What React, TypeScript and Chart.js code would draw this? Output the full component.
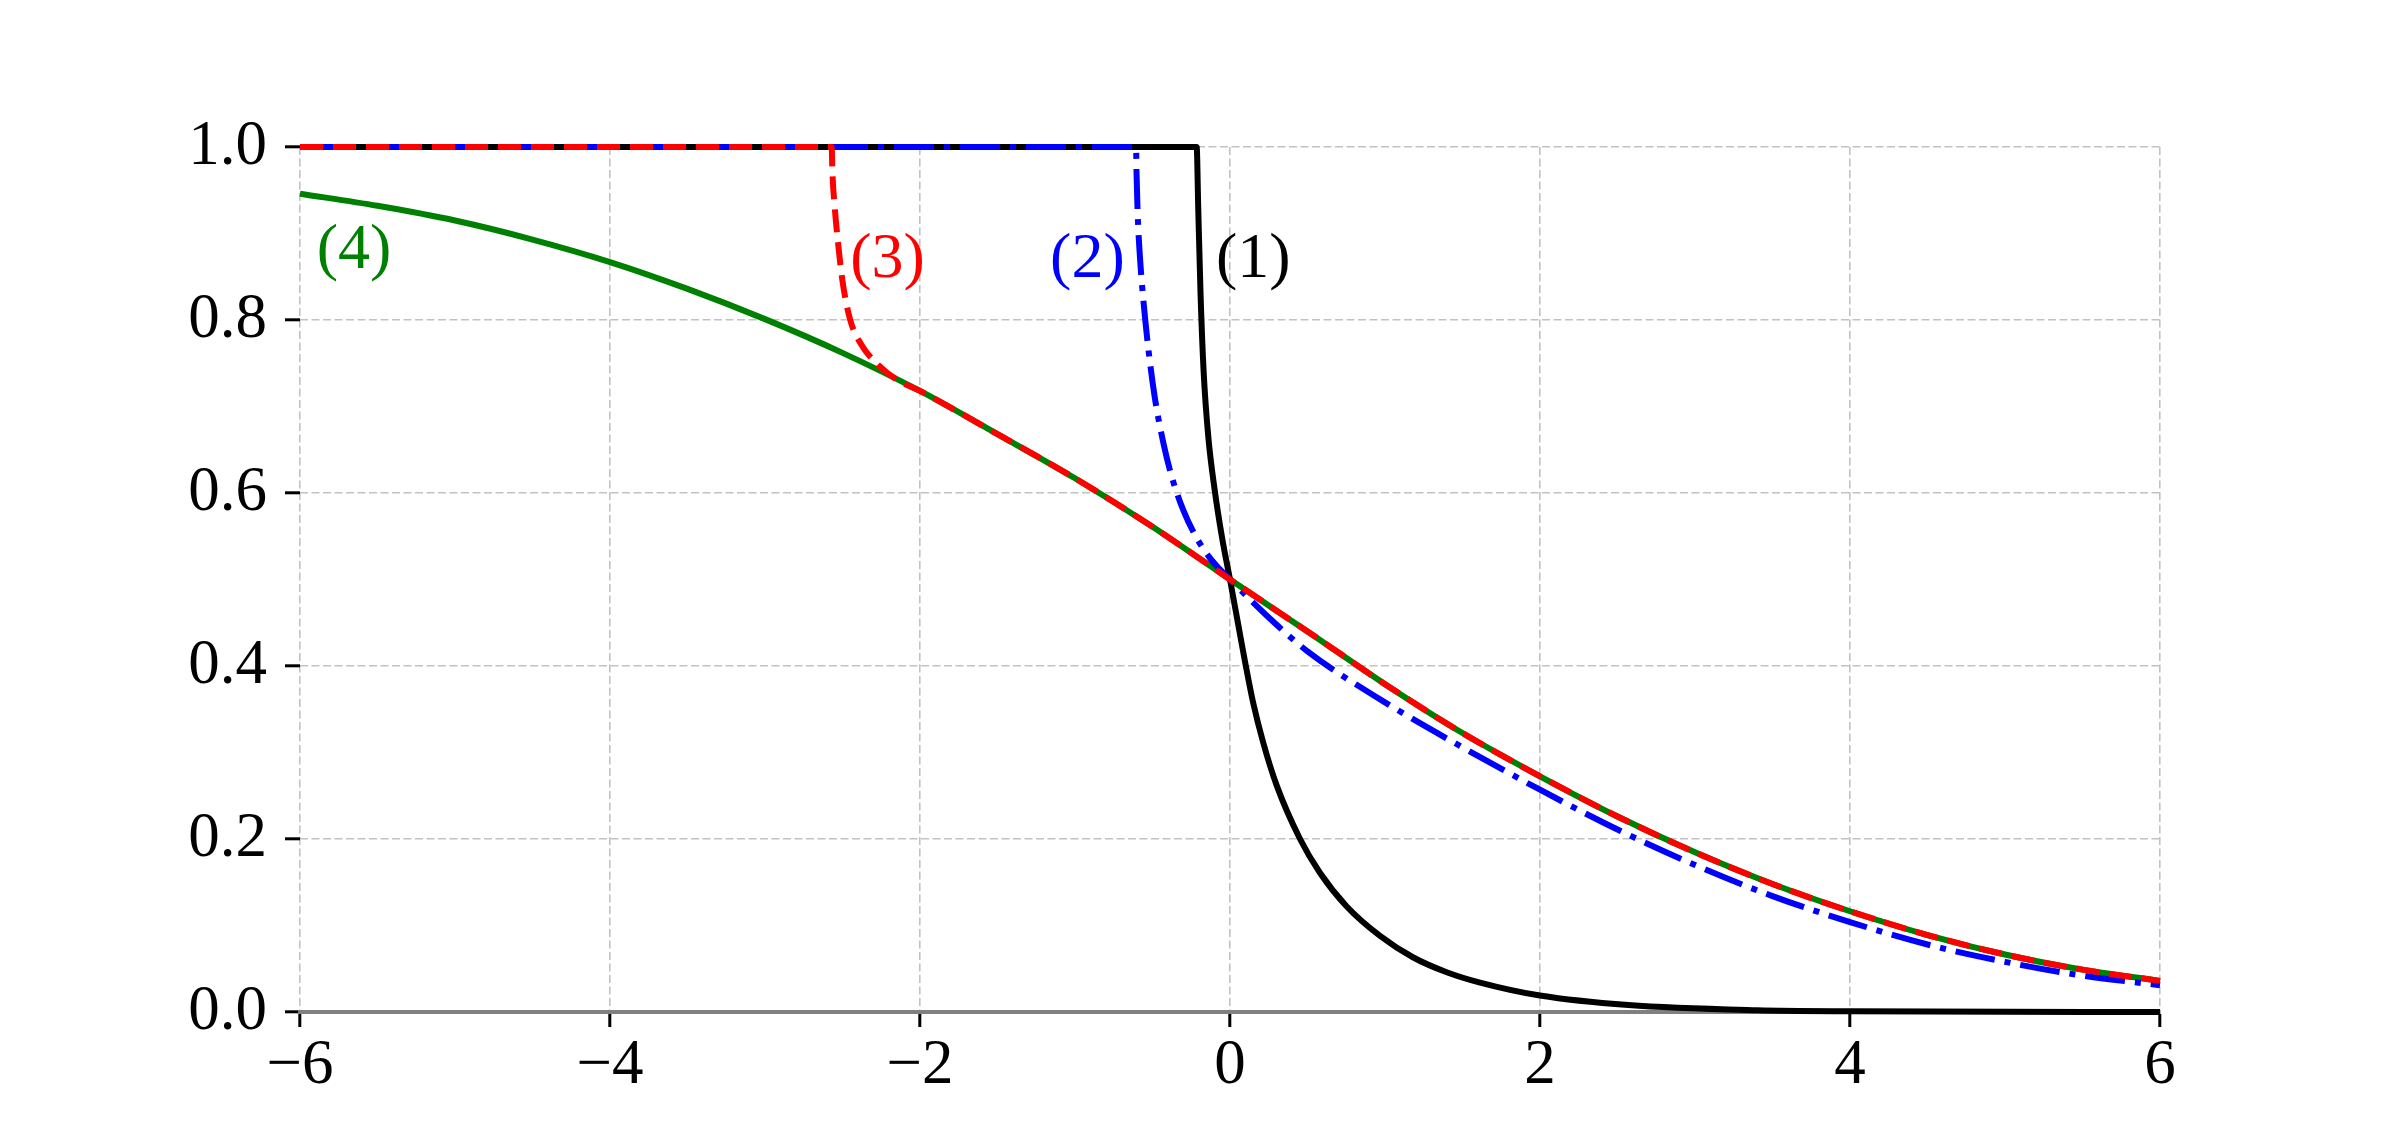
import React, { useEffect, useRef } from 'react';
import { Chart, registerables } from 'chart.js';

Chart.register(...registerables);

// ---- data ----
const X_MIN = -6;
const X_MAX = 6;
const X_STEP = 2;
const Y_MIN = 0;
const Y_MAX = 1;
const Y_STEP = 0.2;

// (1) black solid
const CURVE1_X = [-6, -0.215, -0.205, -0.19, -0.17, -0.14, -0.1, -0.05, 0, 0.054, 0.097, 0.15, 0.215, 0.301, 0.452, 0.58, 0.753, 0.968, 1.183, 1.398, 1.613, 2.0, 2.57, 3.4, 4.0, 6];
const CURVE1_Y = [1, 1, 0.93, 0.83, 0.74, 0.665, 0.605, 0.547, 0.5, 0.447, 0.405, 0.357, 0.311, 0.262, 0.2, 0.161, 0.122, 0.088, 0.063, 0.046, 0.034, 0.019, 0.008, 0.002, 0.0008, 0];

// (2) blue dash-dot
const CURVE2_X = [-6, -0.606, -0.603, -0.595, -0.58, -0.56, -0.527, -0.484, -0.43, -0.376, -0.3, -0.215, -0.13, -0.065, 0, 0.25, 0.5, 1, 1.5, 2, 2.5, 3, 3.5, 4, 4.5, 5, 5.5, 6];
const CURVE2_Y = [1, 1, 0.97, 0.92, 0.87, 0.825, 0.767, 0.709, 0.658, 0.619, 0.5795, 0.548, 0.525, 0.5117, 0.5, 0.456, 0.417, 0.358, 0.306, 0.257, 0.211, 0.17, 0.134, 0.104, 0.078, 0.058, 0.042, 0.031];

// (3) red dashed
const CURVE3_X = [-6, -2.57, -2.565, -2.55, -2.535, -2.5, -2.45, -2.38, -2.27, -2.15, -2, -1.5, -1, -0.5, 0, 0.5, 1, 1.5, 2, 2.5, 3, 3.5, 4, 4.5, 5, 5.5, 6];
const CURVE3_Y = [1, 1, 0.97, 0.93, 0.9, 0.845, 0.8, 0.772, 0.748, 0.731, 0.718, 0.668, 0.617, 0.561, 0.5, 0.44, 0.379, 0.3225, 0.2725, 0.226, 0.1846, 0.148, 0.1165, 0.089, 0.0665, 0.049, 0.036];

// (4) green solid
const CURVE4_X = [-6, -5.5, -5, -4.5, -4, -3.5, -3, -2.5, -2, -1.5, -1, -0.5, 0, 0.5, 1, 1.5, 2, 2.5, 3, 3.5, 4, 4.5, 5, 5.5, 6];
const CURVE4_Y = [0.946, 0.932, 0.915, 0.893, 0.867, 0.836, 0.801, 0.762, 0.718, 0.668, 0.617, 0.561, 0.5, 0.44, 0.379, 0.3225, 0.2725, 0.226, 0.1846, 0.148, 0.1165, 0.089, 0.0665, 0.049, 0.036];

// curve labels (data coordinates)
const LABEL_TEXT = ['(1)', '(2)', '(3)', '(4)'];
const LABEL_X = [0.15, -0.92, -2.21, -5.652];
const LABEL_Y = [0.869, 0.869, 0.869, 0.88];
const LABEL_COLOR = ['#000000', '#0000ff', '#ff0000', '#008000'];

const FONT_FAMILY = "'Liberation Serif', 'DejaVu Serif', serif";

function toPoints(xs: number[], ys: number[]) {
  return xs.map((x, i) => ({ x, y: ys[i] }));
}

const labelPlugin = {
  id: 'curveLabels',
  afterDatasetsDraw(chart: any) {
    const { ctx, scales } = chart;
    ctx.save();
    ctx.font = `64px ${FONT_FAMILY}`;
    ctx.textAlign = 'center';
    ctx.textBaseline = 'middle';
    LABEL_TEXT.forEach((t, i) => {
      ctx.fillStyle = LABEL_COLOR[i];
      ctx.fillText(t, scales.x.getPixelForValue(LABEL_X[i]), scales.y.getPixelForValue(LABEL_Y[i]));
    });
    ctx.restore();
  },
};

export default function App() {
  const ref = useRef<HTMLCanvasElement | null>(null);

  useEffect(() => {
    document.body.style.margin = '0';
    const canvas = ref.current;
    if (!canvas) return;
    const common = {
      pointRadius: 0,
      borderWidth: 6,
      fill: false,
      cubicInterpolationMode: 'monotone' as const,
      clip: 10,
    };
    const chart = new Chart(canvas, {
      type: 'line',
      data: {
        datasets: [
          { ...common, label: '(3)', data: toPoints(CURVE3_X, CURVE3_Y), borderColor: '#ff0000', borderDash: [23, 10] },
          { ...common, label: '(2)', data: toPoints(CURVE2_X, CURVE2_Y), borderColor: '#0000ff', borderDash: [40, 10, 6, 10] },
          { ...common, label: '(1)', data: toPoints(CURVE1_X, CURVE1_Y), borderColor: '#000000' },
          { ...common, label: '(4)', data: toPoints(CURVE4_X, CURVE4_Y), borderColor: '#008000' },
        ],
      },
      options: {
        responsive: false,
        animation: false,
        devicePixelRatio: 1,
        layout: { padding: { left: 0, right: 240, top: 147, bottom: 0 } },
        plugins: { legend: { display: false }, tooltip: { enabled: false } },
        scales: {
          x: {
            type: 'linear',
            min: X_MIN,
            max: X_MAX,
            afterFit: (s: any) => { s.height = 128; },
            ticks: {
              stepSize: X_STEP,
              color: '#000000',
              font: { family: FONT_FAMILY, size: 63, lineHeight: 1.2 },
              padding: 2,
              maxRotation: 0,
              callback: (v: any) => String(v).replace('-', '\u2212'),
            },
            grid: {
              color: '#c2c2c2',
              lineWidth: 1.6,
              tickColor: '#000000',
              tickLength: 15,
              tickWidth: 3,
            },
            border: { display: true, color: '#808080', width: 4, dash: [8, 3.5] },
          },
          y: {
            type: 'linear',
            min: Y_MIN,
            max: Y_MAX,
            afterFit: (s: any) => { s.width = 300; },
            ticks: {
              stepSize: Y_STEP,
              color: '#000000',
              font: { family: FONT_FAMILY, size: 63, lineHeight: 1.2 },
              padding: 18,
              callback: (v: any) => Number(v).toFixed(1),
            },
            grid: {
              color: '#c2c2c2',
              lineWidth: 1.6,
              tickColor: '#000000',
              tickLength: 15,
              tickWidth: 3,
            },
            border: { display: false, dash: [8, 3.5] },
          },
        },
      },
      plugins: [labelPlugin],
    });
    return () => chart.destroy();
  }, []);

  return (
    <div style={{ position: 'absolute', left: 0, top: 0, width: 2400, height: 1140, background: '#ffffff' }}>
      <canvas ref={ref} width={2400} height={1140} style={{ width: 2400, height: 1140, display: 'block' }} />
    </div>
  );
}
